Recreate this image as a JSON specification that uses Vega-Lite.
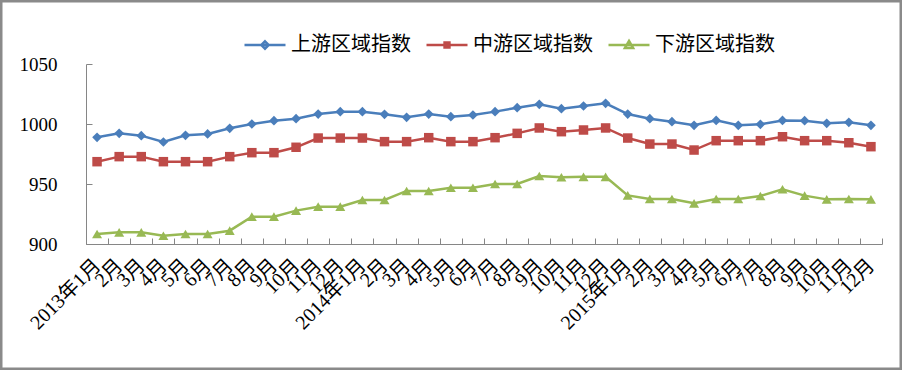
{
  "$schema": "https://vega.github.io/schema/vega-lite/v6.json",
  "width": 902,
  "height": 370,
  "autosize": {"type": "none"},
  "padding": 0,
  "background": "white",
  "config": {
    "view": {"stroke": "#8a8a8a", "strokeWidth": 5},
    "axis": {"grid": false}
  },
  "datasets": {
    "idx": [
      {"m":"2013-01","s":"上游区域指数","v":988.9},{"m":"2013-02","s":"上游区域指数","v":992.2},{"m":"2013-03","s":"上游区域指数","v":990.3},{"m":"2013-04","s":"上游区域指数","v":985.0},{"m":"2013-05","s":"上游区域指数","v":990.6},{"m":"2013-06","s":"上游区域指数","v":991.7},{"m":"2013-07","s":"上游区域指数","v":996.4},{"m":"2013-08","s":"上游区域指数","v":1000.0},{"m":"2013-09","s":"上游区域指数","v":1002.8},{"m":"2013-10","s":"上游区域指数","v":1004.4},{"m":"2013-11","s":"上游区域指数","v":1008.3},{"m":"2013-12","s":"上游区域指数","v":1010.3},
      {"m":"2014-01","s":"上游区域指数","v":1010.3},{"m":"2014-02","s":"上游区域指数","v":1008.1},{"m":"2014-03","s":"上游区域指数","v":1005.6},{"m":"2014-04","s":"上游区域指数","v":1008.3},{"m":"2014-05","s":"上游区域指数","v":1006.1},{"m":"2014-06","s":"上游区域指数","v":1007.5},{"m":"2014-07","s":"上游区域指数","v":1010.3},{"m":"2014-08","s":"上游区域指数","v":1013.6},{"m":"2014-09","s":"上游区域指数","v":1016.4},{"m":"2014-10","s":"上游区域指数","v":1012.8},{"m":"2014-11","s":"上游区域指数","v":1015.0},{"m":"2014-12","s":"上游区域指数","v":1017.2},
      {"m":"2015-01","s":"上游区域指数","v":1008.3},{"m":"2015-02","s":"上游区域指数","v":1004.4},{"m":"2015-03","s":"上游区域指数","v":1001.9},{"m":"2015-04","s":"上游区域指数","v":998.9},{"m":"2015-05","s":"上游区域指数","v":1003.0},{"m":"2015-06","s":"上游区域指数","v":998.9},{"m":"2015-07","s":"上游区域指数","v":999.7},{"m":"2015-08","s":"上游区域指数","v":1003.0},{"m":"2015-09","s":"上游区域指数","v":1002.8},{"m":"2015-10","s":"上游区域指数","v":1000.6},{"m":"2015-11","s":"上游区域指数","v":1001.4},{"m":"2015-12","s":"上游区域指数","v":998.9},
      {"m":"2013-01","s":"中游区域指数","v":968.6},{"m":"2013-02","s":"中游区域指数","v":972.8},{"m":"2013-03","s":"中游区域指数","v":972.8},{"m":"2013-04","s":"中游区域指数","v":968.6},{"m":"2013-05","s":"中游区域指数","v":968.6},{"m":"2013-06","s":"中游区域指数","v":968.6},{"m":"2013-07","s":"中游区域指数","v":972.8},{"m":"2013-08","s":"中游区域指数","v":976.1},{"m":"2013-09","s":"中游区域指数","v":976.1},{"m":"2013-10","s":"中游区域指数","v":980.6},{"m":"2013-11","s":"中游区域指数","v":988.3},{"m":"2013-12","s":"中游区域指数","v":988.3},
      {"m":"2014-01","s":"中游区域指数","v":988.3},{"m":"2014-02","s":"中游区域指数","v":985.3},{"m":"2014-03","s":"中游区域指数","v":985.3},{"m":"2014-04","s":"中游区域指数","v":988.6},{"m":"2014-05","s":"中游区域指数","v":985.3},{"m":"2014-06","s":"中游区域指数","v":985.3},{"m":"2014-07","s":"中游区域指数","v":988.6},{"m":"2014-08","s":"中游区域指数","v":992.2},{"m":"2014-09","s":"中游区域指数","v":996.7},{"m":"2014-10","s":"中游区域指数","v":993.6},{"m":"2014-11","s":"中游区域指数","v":995.0},{"m":"2014-12","s":"中游区域指数","v":996.7},
      {"m":"2015-01","s":"中游区域指数","v":988.3},{"m":"2015-02","s":"中游区域指数","v":983.3},{"m":"2015-03","s":"中游区域指数","v":983.3},{"m":"2015-04","s":"中游区域指数","v":978.3},{"m":"2015-05","s":"中游区域指数","v":986.1},{"m":"2015-06","s":"中游区域指数","v":986.1},{"m":"2015-07","s":"中游区域指数","v":986.1},{"m":"2015-08","s":"中游区域指数","v":989.4},{"m":"2015-09","s":"中游区域指数","v":986.1},{"m":"2015-10","s":"中游区域指数","v":986.1},{"m":"2015-11","s":"中游区域指数","v":984.4},{"m":"2015-12","s":"中游区域指数","v":981.1},
      {"m":"2013-01","s":"下游区域指数","v":908.3},{"m":"2013-02","s":"下游区域指数","v":909.7},{"m":"2013-03","s":"下游区域指数","v":909.7},{"m":"2013-04","s":"下游区域指数","v":906.9},{"m":"2013-05","s":"下游区域指数","v":908.3},{"m":"2013-06","s":"下游区域指数","v":908.3},{"m":"2013-07","s":"下游区域指数","v":911.1},{"m":"2013-08","s":"下游区域指数","v":922.8},{"m":"2013-09","s":"下游区域指数","v":922.8},{"m":"2013-10","s":"下游区域指数","v":927.8},{"m":"2013-11","s":"下游区域指数","v":931.1},{"m":"2013-12","s":"下游区域指数","v":931.1},
      {"m":"2014-01","s":"下游区域指数","v":936.7},{"m":"2014-02","s":"下游区域指数","v":936.7},{"m":"2014-03","s":"下游区域指数","v":944.2},{"m":"2014-04","s":"下游区域指数","v":944.2},{"m":"2014-05","s":"下游区域指数","v":946.9},{"m":"2014-06","s":"下游区域指数","v":946.9},{"m":"2014-07","s":"下游区域指数","v":950.0},{"m":"2014-08","s":"下游区域指数","v":950.0},{"m":"2014-09","s":"下游区域指数","v":956.7},{"m":"2014-10","s":"下游区域指数","v":955.6},{"m":"2014-11","s":"下游区域指数","v":956.0},{"m":"2014-12","s":"下游区域指数","v":956.0},
      {"m":"2015-01","s":"下游区域指数","v":940.5},{"m":"2015-02","s":"下游区域指数","v":937.5},{"m":"2015-03","s":"下游区域指数","v":937.5},{"m":"2015-04","s":"下游区域指数","v":933.9},{"m":"2015-05","s":"下游区域指数","v":937.5},{"m":"2015-06","s":"下游区域指数","v":937.5},{"m":"2015-07","s":"下游区域指数","v":940.0},{"m":"2015-08","s":"下游区域指数","v":945.6},{"m":"2015-09","s":"下游区域指数","v":940.3},{"m":"2015-10","s":"下游区域指数","v":937.2},{"m":"2015-11","s":"下游区域指数","v":937.5},{"m":"2015-12","s":"下游区域指数","v":937.2}
    ]
  },
  "data": {"name": "idx"},
  "encoding": {
    "x": {
      "field": "m",
      "type": "ordinal",
      "scale": {"type": "band", "range": [86, 882], "paddingInner": 0, "paddingOuter": 0},
      "axis": {
        "title": null,
        "orient": "bottom",
        "offset": -126,
        "tickBand": "extent",
        "tickSize": -6,
        "tickColor": "#868686",
        "domainColor": "#868686",
        "labelAngle": -45,
        "labelAlign": "right",
        "labelBaseline": "middle",
        "labelPadding": 24,
        "labelFont": "Liberation Serif, Noto Sans CJK SC",
        "labelFontSize": 20,
        "labelColor": "#000000",
        "labelOverlap": false,
        "labelExpr": "isString(datum.value) && length(datum.value) == 7 ? (substring(datum.value,5)=='01' ? substring(datum.value,0,4)+'年1月' : toNumber(substring(datum.value,5))+'月') : ''"
      }
    },
    "y": {
      "field": "v",
      "type": "quantitative",
      "scale": {"domain": [900, 1050], "range": [244, 64], "nice": false, "zero": false},
      "axis": {
        "title": null,
        "orient": "left",
        "offset": -86,
        "values": [900, 950, 1000, 1050],
        "format": "d",
        "tickSize": -6,
        "tickColor": "#868686",
        "domainColor": "#868686",
        "labelPadding": 35,
        "labelFont": "Liberation Serif",
        "labelFontSize": 19,
        "labelColor": "#000000"
      }
    }
  },
  "layer": [
    {
      "mark": {"type": "line", "strokeWidth": 2.5},
      "encoding": {
        "stroke": {
          "field": "s", "type": "nominal",
          "scale": {"domain": ["上游区域指数", "中游区域指数", "下游区域指数"], "range": ["#4a7ebb", "#be4b48", "#98b954"]},
          "legend": {"title": null, "orient": "none", "legendX": 243, "legendY": 23, "direction": "horizontal", "symbolSize": 1681, "symbolStrokeWidth": 2.5, "labelFont": "Noto Sans CJK SC", "labelFontSize": 20, "labelColor": "#000000", "labelOffset": 4, "columnPadding": 10, "padding": 0, "labelLimit": 300}
        }
      }
    },
    {
      "transform": [{"filter": "datum.s == '上游区域指数'"}],
      "mark": {"type": "point", "filled": true, "opacity": 1, "size": 95, "shape": "diamond", "color": "#4a7ebb"}
    },
    {
      "transform": [{"filter": "datum.s == '中游区域指数'"}],
      "mark": {"type": "point", "filled": true, "opacity": 1, "size": 90, "shape": "square", "color": "#be4b48"}
    },
    {
      "transform": [{"filter": "datum.s == '下游区域指数'"}],
      "mark": {"type": "point", "filled": true, "opacity": 1, "size": 100, "shape": "triangle-up", "color": "#98b954"}
    },
    {
      "mark": {"type": "point", "filled": true, "opacity": 0},
      "encoding": {
        "fill": {
          "field": "s", "type": "nominal",
          "scale": {"domain": ["上游区域指数", "中游区域指数", "下游区域指数"], "range": ["#4a7ebb", "#be4b48", "#98b954"]},
          "legend": {"title": null, "orient": "none", "legendX": 243, "legendY": 23, "direction": "horizontal", "symbolSize": 1681, "symbolStrokeWidth": 2.5, "labelFont": "Noto Sans CJK SC", "labelFontSize": 20, "labelColor": "#000000", "labelOffset": 4, "columnPadding": 10, "padding": 0, "labelLimit": 300}
        },
        "shape": {
          "field": "s", "type": "nominal",
          "scale": {"domain": ["上游区域指数", "中游区域指数", "下游区域指数"], "range": ["M-1,0L1,0M0,-0.18L0.18,0L0,0.18L-0.18,0Z", "M-1,0L1,0M-0.18,-0.12L0.18,-0.12M-0.18,-0.04L0.18,-0.04M-0.18,0.04L0.18,0.04M-0.18,0.12L0.18,0.12", "M-1,0L1,0M0,-0.2L0.2,0.15L-0.2,0.15Z"]},
          "legend": {"title": null, "orient": "none", "legendX": 243, "legendY": 23, "direction": "horizontal", "symbolSize": 1681, "symbolStrokeWidth": 2.5, "labelFont": "Noto Sans CJK SC", "labelFontSize": 20, "labelColor": "#000000", "labelOffset": 4, "columnPadding": 10, "padding": 0, "labelLimit": 300}
        }
      }
    }
  ]
}
